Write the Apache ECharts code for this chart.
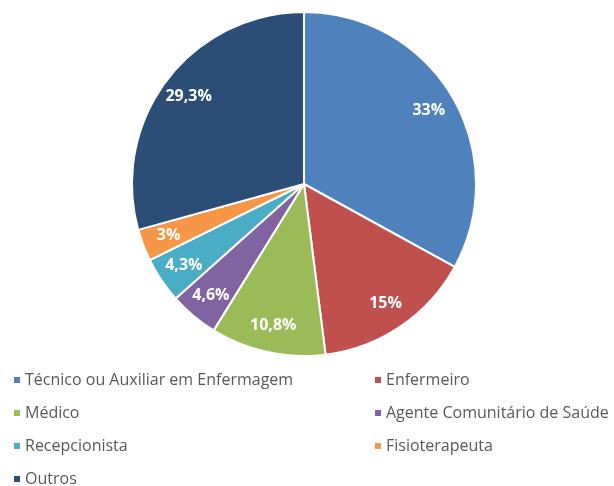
<!DOCTYPE html>
<html>
<head>
<meta charset="utf-8">
<script src="https://cdn.jsdelivr.net/npm/echarts@6/dist/echarts.min.js"></script>
<style>
  html, body { margin: 0; padding: 0; background: #fff; }
  #chart { width: 614px; height: 486px; }
</style>
</head>
<body>
<div id="chart"></div>
<script>
// categorias e percentuais
const categorias = [
  "Técnico ou Auxiliar em Enfermagem",
  "Enfermeiro",
  "Médico",
  "Agente Comunitário de Saúde",
  "Recepcionista",
  "Fisioterapeuta",
  "Outros"
];
const percentuais = [33, 15, 10.8, 4.6, 4.3, 3, 29.3];
const cores = ["#4F81BD", "#C0504D", "#9BBB59", "#8064A2", "#4BACC6", "#F79646", "#2C4D75"];

const dados = categorias.map((nome, i) => ({ name: nome, value: percentuais[i] }));

const chart = echarts.init(document.getElementById("chart"));

const legendaBase = {
  orient: "vertical",
  top: 372,
  height: 160,
  padding: 0,
  icon: "rect",
  itemWidth: 8,
  itemHeight: 8,
  itemGap: 17,
  selectedMode: false,
  textStyle: {
    fontFamily: "Open Sans",
    fontSize: 16,
    color: "#595959",
    lineHeight: 14,
    padding: [0, 0, 0, -1]
  }
};

let option = {
  color: cores,
  animation: false,
  legend: [
    Object.assign({}, legendaBase, {
      left: 12,
      data: [categorias[0], categorias[2], categorias[4], categorias[6]]
    }),
    Object.assign({}, legendaBase, {
      left: 373,
      data: [categorias[1], categorias[3], categorias[5]]
    })
  ],
  series: [
    {
      type: "pie",
      center: [304, 184],
      radius: [0, 172],
      startAngle: 90,
      clockwise: true,
      data: dados,
      itemStyle: { borderColor: "#fff", borderWidth: 2 },
      label: { show: false },
      labelLine: { show: false },
      emphasis: { scale: false }
    },
    {
      // anel invisível só para posicionar os rótulos
      type: "pie",
      center: [304, 184],
      radius: [112, 172],
      startAngle: 90,
      clockwise: true,
      silent: true,
      data: dados,
      itemStyle: { color: "transparent", borderWidth: 0 },
      label: {
        show: true,
        position: "inside",
        color: "#fff",
        fontFamily: "Open Sans",
        fontWeight: "bold",
        fontSize: 16,
        formatter: p => String(p.value).replace(".", ",") + "%"
      },
      labelLine: { show: false }
    }
  ]
};

chart.setOption(option);
</script>
</body>
</html>
